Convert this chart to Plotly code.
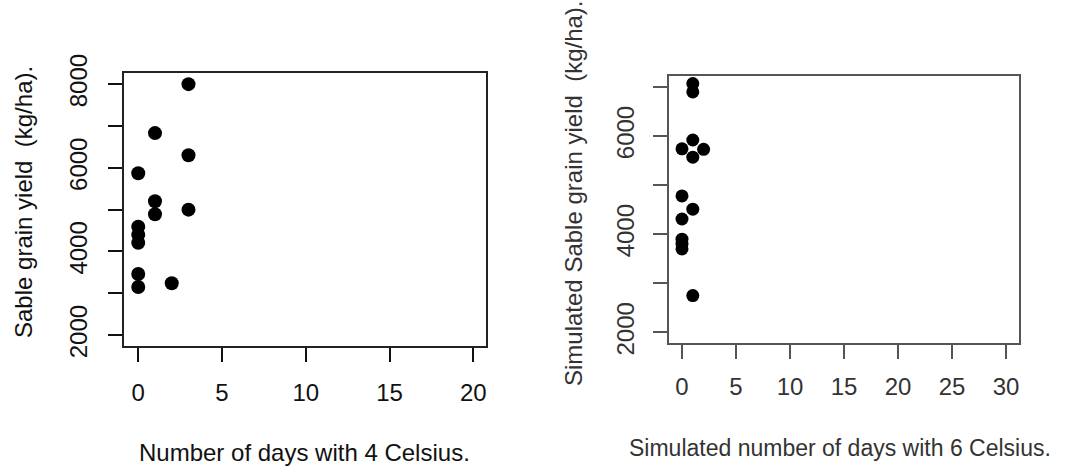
import plotly.graph_objects as go

# ---- data ----
days_4c = [3, 1, 3, 0, 1, 3, 1, 0, 0, 0, 0, 2, 0]
yield_obs = [8000, 6830, 6300, 5870, 5200, 5000, 4890, 4590, 4400, 4210, 3460, 3240, 3150]

days_6c_sim = [1, 1, 1, 0, 2, 1, 0, 1, 0, 0, 0, 0, 1]
yield_sim = [7070, 6900, 5920, 5740, 5730, 5570, 4780, 4510, 4310, 3900, 3800, 3700, 2750]

left_xticks = [0, 5, 10, 15, 20]
left_yticks = [2000, 3000, 4000, 5000, 6000, 7000, 8000]
left_ylabels = ["2000", "", "4000", "", "6000", "", "8000"]
right_xticks = [0, 5, 10, 15, 20, 25, 30]
right_yticks = [2000, 3000, 4000, 5000, 6000, 7000]
right_ylabels = ["2000", "", "4000", "", "6000", ""]

W, H = 1068, 468
FONT = "Liberation Sans, Arial, sans-serif"

def px(x):
    return x / W

def py(y):
    return 1 - y / H

fig = go.Figure()
fig.add_trace(go.Scatter(x=days_4c, y=yield_obs, mode="markers",
                         marker=dict(color="#000", size=14, line=dict(width=0)),
                         xaxis="x", yaxis="y", showlegend=False))
fig.add_trace(go.Scatter(x=days_6c_sim, y=yield_sim, mode="markers",
                         marker=dict(color="#000", size=13, line=dict(width=0)),
                         xaxis="x2", yaxis="y2", showlegend=False))

left_axis = dict(showline=True, mirror=True, linewidth=1.6, showgrid=False,
                 zeroline=False, ticks="outside", ticklen=14, tickwidth=1.5,
                 tickcolor="#111", linecolor="#222", automargin=False)
right_axis = dict(showline=True, mirror=True, linewidth=2.2, showgrid=False,
                  zeroline=False, ticks="outside", ticklen=14, tickwidth=1.8,
                  tickcolor="#555", linecolor="#555", automargin=False,
                  tickfont=dict(color="#333", size=24))

fig.update_layout(
    template="none",
    width=W, height=H,
    margin=dict(l=0, r=0, t=0, b=0, pad=0),
    paper_bgcolor="white", plot_bgcolor="white",
    font=dict(family=FONT, size=24, color="#111"),
    xaxis=dict(domain=[px(124), px(486)], range=[-0.85, 20.76], anchor="y",
               tickvals=left_xticks, ticktext=[str(v) for v in left_xticks],
               ticklabelstandoff=10, **left_axis),
    yaxis=dict(domain=[py(346), py(73.3)], range=[1740, 8260], anchor="x",
               tickvals=left_yticks, ticktext=left_ylabels, tickangle=-90,
               ticklabelstandoff=12, **left_axis),
    xaxis2=dict(domain=[px(668.7), px(1019)], range=[-1.23, 31.2], anchor="y2",
                tickvals=right_xticks, ticktext=[str(v) for v in right_xticks],
                ticklabelstandoff=7, **right_axis),
    yaxis2=dict(domain=[py(342.7), py(76)], range=[1790, 7224], anchor="x2",
                tickvals=right_yticks, ticktext=right_ylabels, tickangle=-90,
                ticklabelstandoff=9, **right_axis),
)

annotations = [
    dict(text="Sable grain yield\u00a0 (kg/ha).", x=px(23), y=py(202), textangle=-90,
         font=dict(size=24, color="#111")),
    dict(text="Number of days with 4 Celsius.", x=px(304), y=py(452),
         font=dict(size=24, color="#111")),
    dict(text="Simulated Sable grain yield\u00a0 (kg/ha).", x=px(573), y=py(193), textangle=-90,
         font=dict(size=24, color="#333")),
    dict(text="Simulated number of days with 6 Celsius.", x=px(840), y=py(448),
         font=dict(size=23, color="#333")),
]
for a in annotations:
    fig.add_annotation(xref="paper", yref="paper", showarrow=False,
                       xanchor="center", yanchor="middle", **a)

fig.write_html("out.html")
